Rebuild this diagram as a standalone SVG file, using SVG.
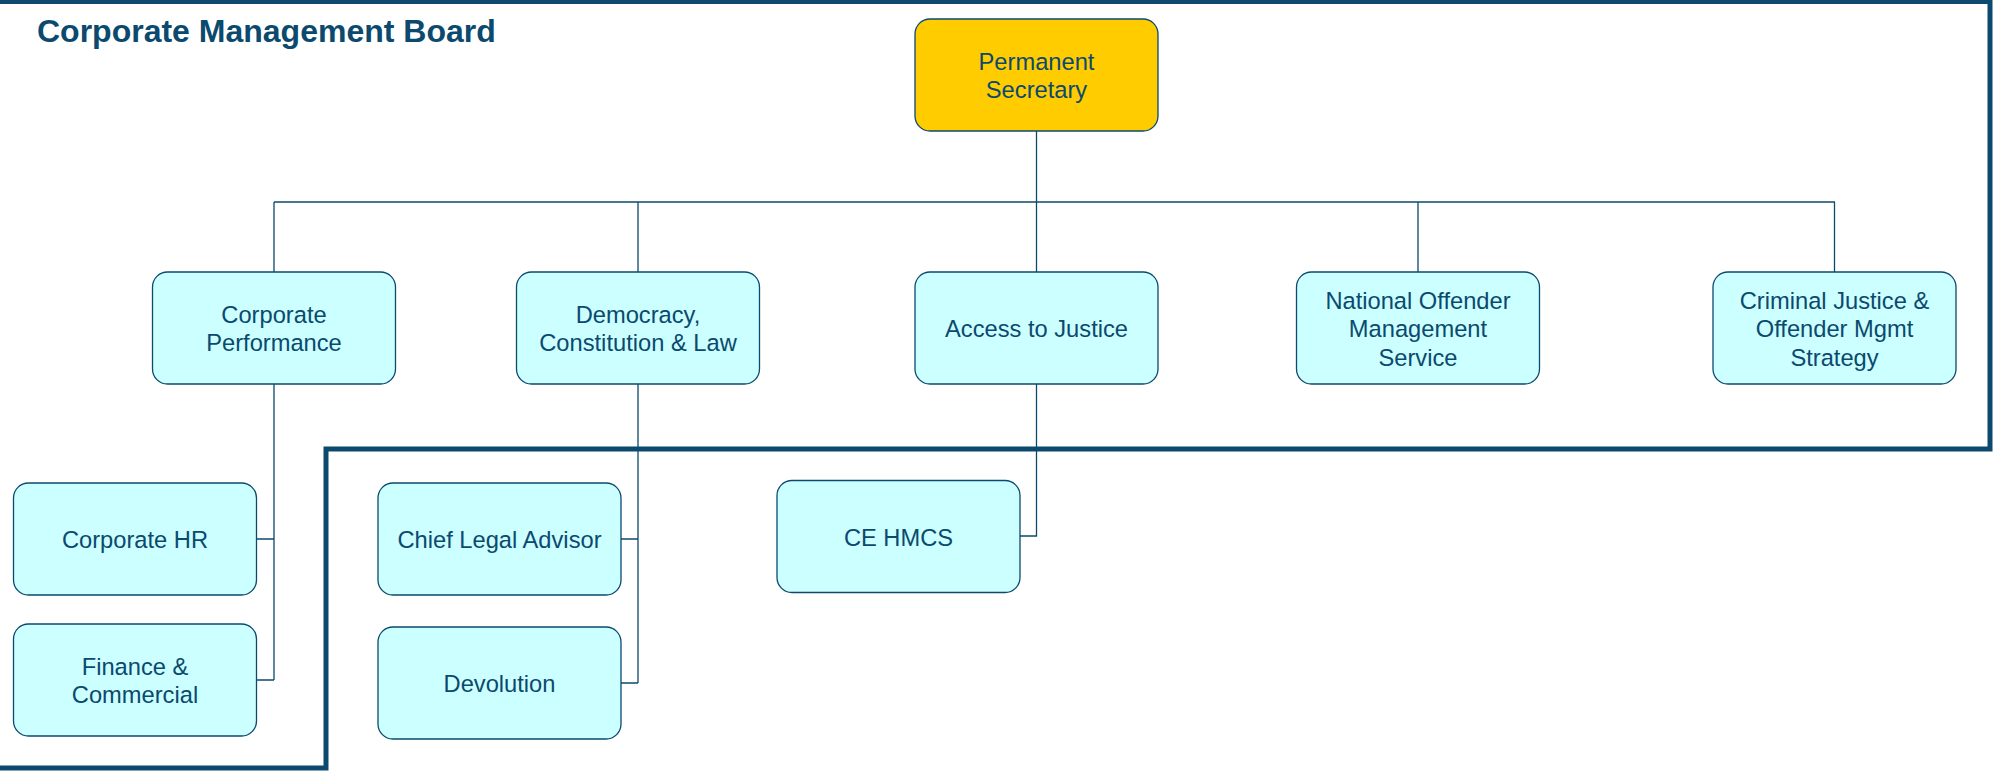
<svg xmlns="http://www.w3.org/2000/svg" width="1993" height="771" viewBox="0 0 1993 771">
<style>
.node rect{fill:#CCFFFF;stroke:#0B4A6E;stroke-width:1.3}
#ps rect{fill:#FFCC00}
.node text{font-family:"Liberation Sans",Arial,sans-serif;font-size:23.7px;fill:#0B4A6E;text-anchor:middle}
.title{font-family:"Liberation Sans",Arial,sans-serif;font-size:32px;font-weight:bold;fill:#0B4A6E}
.border{fill:none;stroke:#0B4A6E;stroke-width:5}
#connectors path{fill:none;stroke:#0B4A6E;stroke-width:1.3}
</style>
<rect width="1993" height="771" fill="#FFFFFF"/>
<path class="border" d="M0,1.5 H1990 V449 H326 V768 H0"/>
<text class="title" x="37" y="42">Corporate Management Board</text>
<g id="connectors">
<path d="M1036.5,131 V272" stroke-width="2"/>
<path d="M274,202 H1835"/>
<path d="M274,202 V272 M638,202 V272 M1418,202 V272 M1834.5,202 V272"/>
<path d="M274,384 V680 M256.5,539 H274 M256.5,680 H274"/>
<path d="M638,384 V683 M621,539 H638 M621,683 H638"/>
<path d="M1036.5,384 V536 H1020"/>
</g>
<g id="ps" class="node"><rect x="915" y="19" width="243" height="112" rx="15"/><text x="1036.5" y="69.75">Permanent</text><text x="1036.5" y="98.25">Secretary</text></g>
<g id="cp" class="node"><rect x="152.5" y="272" width="243" height="112" rx="15"/><text x="274" y="322.75">Corporate</text><text x="274" y="351.25">Performance</text></g>
<g id="dcl" class="node"><rect x="516.5" y="272" width="243" height="112" rx="15"/><text x="638" y="322.75">Democracy,</text><text x="638" y="351.25">Constitution &amp; Law</text></g>
<g id="aj" class="node"><rect x="915" y="272" width="243" height="112" rx="15"/><text x="1036.5" y="337">Access to Justice</text></g>
<g id="noms" class="node"><rect x="1296.5" y="272" width="243" height="112" rx="15"/><text x="1418" y="308.5">National Offender</text><text x="1418" y="337">Management</text><text x="1418" y="365.5">Service</text></g>
<g id="cjoms" class="node"><rect x="1713" y="272" width="243" height="112" rx="15"/><text x="1834.5" y="308.5">Criminal Justice &amp;</text><text x="1834.5" y="337">Offender Mgmt</text><text x="1834.5" y="365.5">Strategy</text></g>
<g id="hr" class="node"><rect x="13.5" y="483" width="243" height="112" rx="15"/><text x="135" y="548">Corporate HR</text></g>
<g id="fin" class="node"><rect x="13.5" y="624" width="243" height="112" rx="15"/><text x="135" y="674.75">Finance &amp;</text><text x="135" y="703.25">Commercial</text></g>
<g id="cla" class="node"><rect x="378" y="483" width="243" height="112" rx="15"/><text x="499.5" y="548">Chief Legal Advisor</text></g>
<g id="dev" class="node"><rect x="378" y="627" width="243" height="112" rx="15"/><text x="499.5" y="692">Devolution</text></g>
<g id="hmcs" class="node"><rect x="777" y="480.5" width="243" height="112" rx="15"/><text x="898.5" y="545.5">CE HMCS</text></g>
</svg>
